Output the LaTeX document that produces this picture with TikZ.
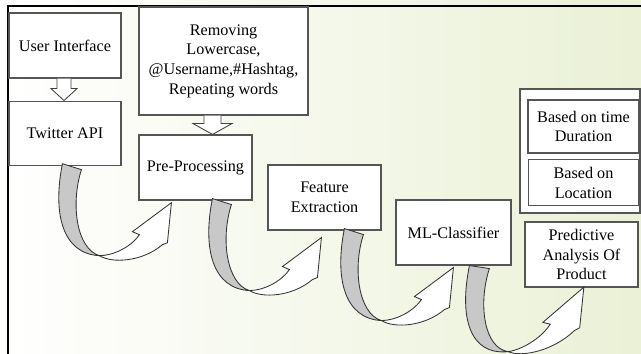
\documentclass[tikz,border=0pt]{standalone}
\usepackage{fontspec}
\setmainfont{Liberation Serif}
\usetikzlibrary{calc,positioning}

\definecolor{bgtint}{RGB}{234,241,214}
\definecolor{boxline}{RGB}{85,85,85}
\definecolor{bandgray}{RGB}{200,200,200}

% bent arrow under a box: grey back band, then the white front with the head
\newcommand{\bendarrow}[1]{%
  \begin{scope}[#1]
    \filldraw[backpart] (0,0) -- (19,6) .. controls (8,40) and (14,85) .. (37,92)
      .. controls (0,90) and (-10,50) .. (0,0) -- cycle;
    \filldraw[frontpart] (37,92) .. controls (50,100) and (80,98) .. (100,81)
      -- (105,79) -- (109,39) -- (70,68) -- (77,71)
      .. controls (68,84) and (50,92) .. (37,92) -- cycle;
  \end{scope}}

\begin{document}
\begin{tikzpicture}[x=0.025cm, y=-0.025cm,
    box/.style = {draw=boxline, line width=0.8pt, fill=white, align=center,
                  font=\fontsize{11.5}{14}\selectfont, inner sep=2pt},
    hollow/.style = {draw=black!75, line width=0.6pt, fill=white},
    backpart/.style = {draw=black!80, line width=0.6pt, fill=bandgray},
    frontpart/.style = {draw=black!80, line width=0.6pt, fill=white}]
    \fill[left color=white, right color=bgtint] (0,0) rectangle (641,354);
    \useasboundingbox (0,0) rectangle (641,354);
    \draw[line width=1.5pt] (8,354) -- (8,6) -- (641,6);

    \node[box, minimum width=2.8cm, minimum height=1.625cm] (ui) at (65,45.5) {User Interface};
    \node[box, minimum width=2.8cm, minimum height=1.6cm, below of=ui, node distance=2.19cm] (api) {Twitter API};
    \node[box, minimum width=4.225cm, minimum height=2.7cm] (rem) at (223.5,61)
        {Removing\\Lowercase,\\@Username,\#Hashtag,\\Repeating words};
    \node[box, minimum width=2.825cm, minimum height=1.625cm] (prep) at (195.5,167.5) {Pre-Processing};
    \node[box, minimum width=2.825cm, minimum height=1.625cm] (feat) at (324.5,197.5) {Feature\\Extraction};
    \node[box, minimum width=2.875cm, minimum height=1.625cm] (ml) at (453.5,232.5) {ML-Classifier};
    \node[box, minimum width=3.0cm, minimum height=3.1cm] (grp) at (580,151) {};
    \node[box, minimum width=2.775cm, minimum height=1.325cm] (time) at (583.5,126.5) {Based on time\\Duration};
    \node[box, minimum width=2.75cm, minimum height=1.15cm, below of=time, node distance=1.41cm] (loc) {Based on\\Location};
    \node[box, minimum width=2.825cm, minimum height=1.625cm] (pred) at (581.5,254.5) {Predictive\\Analysis Of\\Product};

    \draw[hollow] ($(ui.south)+(-8,0)$) -- ++(0,10) -- ++(-6,0) -- ($(api.north)+(-1,0)$)
        -- ($(ui.south)+(12,10)$) -- ++(-6,0) -- ($(ui.south)+(6,0)$);
    \draw[hollow] ($(rem.south)+(-19.5,0)$) -- ++(0,8) -- ++(-11,0) -- ($(prep.north)+(17,0)$)
        -- ($(rem.south)+(8.5,8)$) -- ++(-11,0) -- ($(rem.south)+(-2.5,0)$);

    \bendarrow{shift={($(api.south west)+(54,-2)$)}}
    \bendarrow{shift={($(prep.south west)+(74,-2)$)}}
    \bendarrow{shift={($(feat.south west)+(77,-2)$)}}
    \bendarrow{shift={($(ml.south west)+(74,0)$)}, xscale=1.05, yslant=0.16}
\end{tikzpicture}
\end{document}
